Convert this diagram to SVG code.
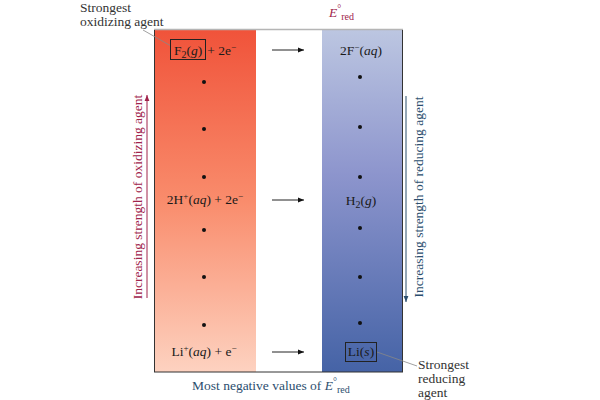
<svg xmlns="http://www.w3.org/2000/svg" width="600" height="400" viewBox="0 0 600 400">
<style>
text{font-family:"Liberation Serif","DejaVu Serif",serif;font-size:13.5px;fill:#1a1a1a}
.c{text-anchor:middle}
.i{font-style:italic}
.lbl{fill:#333}
.ox{fill:#a0234b}
.rd{fill:#2b4e6e}
.dot{fill:#111}
.arr{stroke:#222;stroke-width:1;fill:none;marker-end:url(#ah)}
</style>
<defs>
<linearGradient id="gr" x1="0" y1="0" x2="0" y2="1">
<stop offset="0" stop-color="#f0533a"/>
<stop offset="0.5" stop-color="#f98c6c"/>
<stop offset="1" stop-color="#fdd2c0"/>
</linearGradient>
<linearGradient id="gb" x1="0" y1="0" x2="0" y2="1">
<stop offset="0" stop-color="#bcc6e1"/>
<stop offset="0.42" stop-color="#8d95cd"/>
<stop offset="1" stop-color="#4563a6"/>
</linearGradient>
<marker id="ah" viewBox="0 0 10 10" refX="10" refY="5" markerWidth="8" markerHeight="6" orient="auto" markerUnits="userSpaceOnUse"><path d="M0,1 L10,5 L0,9 Z" fill="#111"/></marker>
<marker id="ahr" viewBox="0 0 10 10" refX="10" refY="5" markerWidth="7" markerHeight="6" orient="auto" markerUnits="userSpaceOnUse"><path d="M0,1 L10,5 L0,9 Z" fill="#a0234b"/></marker>
<marker id="ahb" viewBox="0 0 10 10" refX="10" refY="5" markerWidth="7" markerHeight="6" orient="auto" markerUnits="userSpaceOnUse"><path d="M0,1 L10,5 L0,9 Z" fill="#2b4e6e"/></marker>
</defs>

<g id="panels">
<rect x="154" y="30" width="102" height="342" fill="url(#gr)"/>
<rect x="322" y="30" width="81" height="342" fill="url(#gb)"/>
<line x1="154" y1="29.5" x2="403" y2="29.5" stroke="#b5b5b5" stroke-width="1.5"/>
<line x1="154" y1="372" x2="403" y2="372" stroke="#333" stroke-width="1"/>
<line x1="154.5" y1="30" x2="154.5" y2="372" stroke="#333" stroke-width="1"/>
<line x1="402.5" y1="30" x2="402.5" y2="372" stroke="#333" stroke-width="1"/>
</g>

<g id="dots">
<circle class="dot" cx="204" cy="82" r="2"/>
<circle class="dot" cx="204" cy="129" r="2"/>
<circle class="dot" cx="204" cy="177" r="2"/>
<circle class="dot" cx="204" cy="230" r="2"/>
<circle class="dot" cx="204" cy="277" r="2"/>
<circle class="dot" cx="204" cy="325" r="2"/>
<circle class="dot" cx="360" cy="77" r="2"/>
<circle class="dot" cx="360" cy="127" r="2"/>
<circle class="dot" cx="360" cy="177" r="2"/>
<circle class="dot" cx="360" cy="228" r="2"/>
<circle class="dot" cx="360" cy="277" r="2"/>
<circle class="dot" cx="360" cy="323" r="2"/>
</g>

<g id="connectors">
<line class="arr" x1="272" y1="50" x2="304" y2="50"/>
<line class="arr" x1="272" y1="200" x2="304" y2="200"/>
<line class="arr" x1="272" y1="352" x2="304" y2="352"/>
<line x1="147" y1="298" x2="147" y2="95" stroke="#a0234b" stroke-width="1" marker-end="url(#ahr)"/>
<line x1="406" y1="96" x2="406" y2="302" stroke="#2b4e6e" stroke-width="1" marker-end="url(#ahb)"/>
<line x1="143" y1="30" x2="171" y2="46" stroke="#888" stroke-width="0.8"/>
<line x1="377" y1="352" x2="417" y2="366" stroke="#888" stroke-width="0.8"/>
</g>

<g id="f2">
<rect x="170.5" y="39.5" width="35" height="20" fill="none" stroke="#222" stroke-width="1"/>
<text x="174" y="55">F<tspan font-size="10" dy="3">2</tspan><tspan dy="-3">(</tspan><tspan class="i">g</tspan>)<tspan dx="5">+ 2e</tspan><tspan font-size="9" dy="-5">−</tspan></text>
</g>
<g id="f-">
<text x="361" y="55" class="c">2F<tspan font-size="9" dy="-5">−</tspan><tspan dy="5">(</tspan><tspan class="i">aq</tspan>)</text>
</g>
<g id="hplus">
<text x="205" y="204" class="c">2H<tspan font-size="9" dy="-5">+</tspan><tspan dy="5">(</tspan><tspan class="i">aq</tspan>) + 2e<tspan font-size="9" dy="-5">−</tspan></text>
</g>
<g id="h2">
<text x="361" y="205" class="c">H<tspan font-size="10" dy="3">2</tspan><tspan dy="-3">(</tspan><tspan class="i">g</tspan>)</text>
</g>
<g id="liplus">
<text x="204" y="356" class="c">Li<tspan font-size="9" dy="-5">+</tspan><tspan dy="5">(</tspan><tspan class="i">aq</tspan>) + e<tspan font-size="9" dy="-5">−</tspan></text>
</g>
<g id="li">
<rect x="345.5" y="342.5" width="31" height="19" fill="none" stroke="#222" stroke-width="1"/>
<text x="361" y="356" class="c">Li(<tspan class="i">s</tspan>)</text>
</g>

<g id="labels">
<text x="80" y="12" class="lbl">Strongest</text>
<text x="80" y="26" class="lbl">oxidizing agent</text>
<text x="418" y="369" class="lbl">Strongest</text>
<text x="418" y="383" class="lbl">reducing</text>
<text x="418" y="397" class="lbl">agent</text>
<text x="329" y="17" class="ox"><tspan class="i">E</tspan><tspan font-size="10" dy="-5">°</tspan><tspan font-size="10" dy="8">red</tspan></text>
<text x="192" y="390" class="rd">Most negative values of <tspan class="i">E</tspan><tspan font-size="10" dy="-5">°</tspan><tspan font-size="10" dy="8">red</tspan></text>
<text class="ox c" transform="translate(142,197) rotate(-90)">Increasing strength of oxidizing agent</text>
<text class="rd c" transform="translate(423,197) rotate(-90)">Increasing strength of reducing agent</text>
</g>
</svg>
